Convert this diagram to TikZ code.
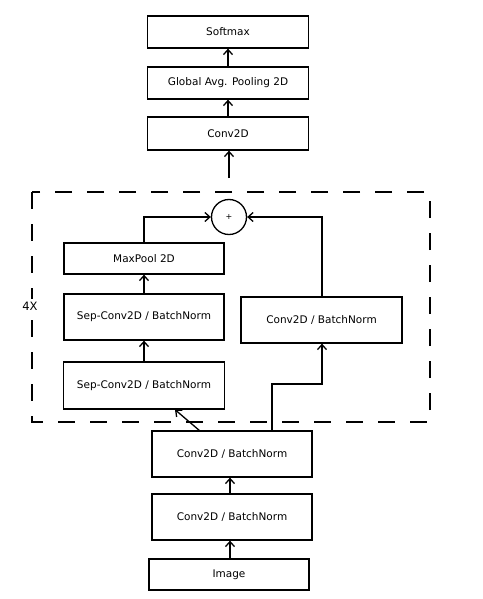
\documentclass[tikz,border=0pt]{standalone}
\usepackage{fontspec}
\setmainfont{DejaVu Sans}
\usetikzlibrary{arrows.meta}
\begin{document}
\begin{tikzpicture}[x=1pt,y=-1pt,
  layer/.style={draw, line width=1.3pt, inner sep=0pt, font=\fontsize{10.5}{12}\selectfont},
  flow/.style={line width=1.3pt, -{Straight Barb[length=5pt,width=9pt,line width=1.3pt]}},
  link/.style={line width=1.3pt}]
\useasboundingbox (0,0) rectangle (482,599);
% output head
\node[layer, minimum width=161pt, minimum height=32pt] (soft) at (228,32) {Softmax};
\node[layer, minimum width=161pt, minimum height=32pt] (gap) at (228,83) {Global Avg. Pooling 2D};
\node[layer, minimum width=161pt, minimum height=33pt] (conv) at (228,133.5) {Conv2D};
% repeated block
\draw[line width=1.7pt, dash pattern=on 17pt off 15pt] (32,192) rectangle (430,422);
\node[fill=white, inner sep=3pt, font=\fontsize{11.5}{13}\selectfont] (rep) at (30,306) {4X};
\node[draw, circle, line width=1.3pt, minimum size=35pt, inner sep=0pt, font=\fontsize{8}{9}\selectfont] (add) at (229,217) {+};
\node[layer, minimum width=160pt, minimum height=31pt] (pool) at (144,258.5) {MaxPool 2D};
\node[layer, minimum width=160pt, minimum height=46pt] (sep1) at (144,317) {Sep-Conv2D / BatchNorm};
\node[layer, minimum width=161pt, minimum height=47pt] (sep2) at (144,385.5) {Sep-Conv2D / BatchNorm};
\node[layer, minimum width=161pt, minimum height=46pt] (res) at (321.5,320) {Conv2D / BatchNorm};
% stem
\node[layer, minimum width=160pt, minimum height=46pt] (stem2) at (232,454) {Conv2D / BatchNorm};
\node[layer, minimum width=160pt, minimum height=46pt] (stem1) at (232,517) {Conv2D / BatchNorm};
\node[layer, minimum width=160pt, minimum height=31pt] (img) at (229,574.5) {Image};
\coordinate (split) at (272,431);
\coordinate (out) at (229,178);
% connectors
\draw[flow] (img.north -| 230,0) -- (stem1.south -| 230,0);
\draw[flow] (stem1.north -| 230,0) -- (stem2.south -| 230,0);
\draw[flow] (200,431) -- (sep2.south -| 175,0);
\draw[flow] (split) |- (322,384) -- (res.south -| 322,0);
\draw[flow] (sep2.north) -- (sep1.south);
\draw[flow] (sep1.north) -- (pool.south);
\draw[flow] (pool.north) |- (add.west);
\draw[flow] (res.north -| 322,0) |- (add.east);
\draw[flow] (out) -- (conv.south -| out);
\draw[flow] (conv.north) -- (gap.south);
\draw[flow] (gap.north) -- (soft.south);
\end{tikzpicture}
\end{document}
